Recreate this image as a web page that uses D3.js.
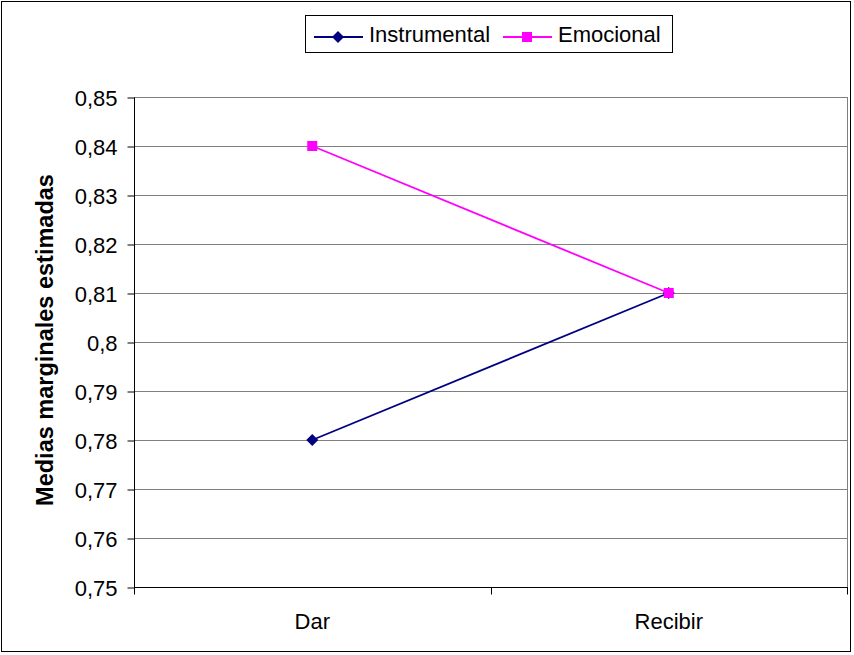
<!DOCTYPE html>
<html>
<head>
<meta charset="utf-8">
<script src="https://cdn.jsdelivr.net/npm/d3@7"></script>
<style>
  body { margin: 0; background: #fff; }
  text { font-family: "Liberation Sans", Arial, sans-serif; fill: #000; }
</style>
</head>
<body>
<div id="vis"></div>
<script>
// data
var categories = ["Dar", "Recibir"];
var instrumental = [0.78, 0.81];
var emocional = [0.84, 0.81];
var y_ticks = [0.75, 0.76, 0.77, 0.78, 0.79, 0.80, 0.81, 0.82, 0.83, 0.84, 0.85];
var y_labels = ["0,75", "0,76", "0,77", "0,78", "0,79", "0,8", "0,81", "0,82", "0,83", "0,84", "0,85"];

var series = [
    {name: "Instrumental", values: instrumental, color: "#000080", shape: "diamond"},
    {name: "Emocional", values: emocional, color: "#ff00ff", shape: "square"}
];

var W = 854, H = 655;
var plot = {left: 134, right: 847, top: 97, bottom: 587};
var fs = "22px";

var svg = d3.select("div#vis").append("svg")
    .attr("width", W)
    .attr("height", H);

// outer frame
svg.append("rect")
    .attr("x", 1.5).attr("y", 1.5)
    .attr("width", 849).attr("height", 650)
    .attr("fill", "#fff")
    .attr("stroke", "#000")
    .attr("stroke-width", 1);

var x = d3.scaleBand()
    .domain(categories)
    .range([plot.left, plot.right]);

var y = d3.scaleLinear()
    .domain([0.75, 0.85])
    .range([plot.bottom, plot.top]);

// gridlines
svg.append("g")
    .selectAll("line")
    .data(y_ticks.slice(1))
    .enter().append("line")
    .attr("x1", plot.left).attr("x2", plot.right)
    .attr("y1", function(d) { return Math.round(y(d)) + 0.5; })
    .attr("y2", function(d) { return Math.round(y(d)) + 0.5; })
    .attr("stroke", "#808080")
    .attr("stroke-width", 1);

// plot right border
svg.append("line")
    .attr("x1", plot.right + 0.5).attr("x2", plot.right + 0.5)
    .attr("y1", plot.top).attr("y2", plot.bottom)
    .attr("stroke", "#808080");

// y axis
var yAxis = d3.axisLeft(y)
    .tickValues(y_ticks)
    .tickSize(7)
    .tickPadding(10)
    .tickFormat(function(d, i) { return y_labels[i]; });

var gy = svg.append("g")
    .attr("transform", "translate(" + (plot.left + 0.5) + ",0.5)")
    .call(yAxis);
gy.attr("font-size", fs).attr("font-family", null);
gy.select(".domain").attr("stroke", "#000").attr("d", "M0," + plot.top + "V" + plot.bottom);
gy.selectAll(".tick line").attr("stroke", "#000");
gy.selectAll(".tick text")
    .attr("font-size", fs)
    .attr("dy", "0.36em");

// x axis
var gx = svg.append("g")
    .attr("transform", "translate(0," + (plot.bottom + 0.5) + ")");
gx.append("line")
    .attr("x1", plot.left).attr("x2", plot.right + 1)
    .attr("stroke", "#000");
gx.selectAll("line.tick")
    .data([plot.left, plot.left + x.bandwidth(), plot.right])
    .enter().append("line")
    .attr("class", "tick")
    .attr("x1", function(d) { return Math.round(d) + 0.5; })
    .attr("x2", function(d) { return Math.round(d) + 0.5; })
    .attr("y1", 0).attr("y2", 7)
    .attr("stroke", "#000");
gx.selectAll("text")
    .data(categories)
    .enter().append("text")
    .attr("x", function(d) { return x(d) + x.bandwidth() / 2; })
    .attr("y", 41)
    .attr("text-anchor", "middle")
    .attr("font-size", fs)
    .text(function(d) { return d; });

// y axis title
svg.append("text")
    .attr("transform", "translate(53,340) rotate(-90)")
    .attr("text-anchor", "middle")
    .attr("font-size", "23.5px")
    .attr("font-weight", "bold")
    .text("Medias marginales estimadas");

function marker(g, shape, color, cx, cy) {
    if (shape === "diamond")
        g.append("path")
            .attr("d", "M" + cx + "," + (cy - 6) + "L" + (cx + 6) + "," + cy +
                       "L" + cx + "," + (cy + 6) + "L" + (cx - 6) + "," + cy + "Z")
            .attr("fill", color);
    else
        g.append("rect")
            .attr("x", cx - 5).attr("y", cy - 5)
            .attr("width", 10).attr("height", 10)
            .attr("fill", color);
}

var line = d3.line()
    .x(function(d, i) { return x(categories[i]) + x.bandwidth() / 2; })
    .y(function(d) { return y(d); });

series.forEach(function(s) {
    var g = svg.append("g");
    g.append("path")
        .attr("d", line(s.values))
        .attr("fill", "none")
        .attr("stroke", s.color)
        .attr("stroke-width", 1.8);
    s.values.forEach(function(v, i) {
        marker(g, s.shape, s.color, x(categories[i]) + x.bandwidth() / 2, y(v));
    });
});

// legend
var legend = svg.append("g").attr("transform", "translate(305,15)");
legend.append("rect")
    .attr("x", 0.5).attr("y", 0.5)
    .attr("width", 367).attr("height", 37)
    .attr("fill", "#fff")
    .attr("stroke", "#000");

var legend_x = [9, 198];
series.forEach(function(s, i) {
    var lg = legend.append("g").attr("transform", "translate(" + legend_x[i] + ",22)");
    lg.append("line")
        .attr("x1", 0).attr("x2", 49)
        .attr("stroke", s.color).attr("stroke-width", 1.8);
    marker(lg, s.shape, s.color, 24, 0);
    lg.append("text")
        .attr("x", 55).attr("y", 5)
        .attr("font-size", fs)
        .text(s.name);
});
</script>
</body>
</html>
